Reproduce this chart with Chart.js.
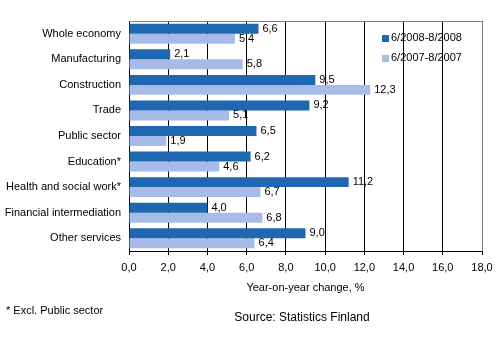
<!DOCTYPE html>
<html><head><meta charset="utf-8">
<script src="https://cdn.jsdelivr.net/npm/chart.js@4/dist/chart.umd.min.js"></script>
<style>html,body{margin:0;padding:0;background:#fff}#wrap{position:relative;width:499px;height:345px}</style>
</head><body><div id="wrap"><canvas id="c" width="499" height="345"></canvas></div>
<script>
const categories = ["Whole economy","Manufacturing","Construction","Trade","Public sector","Education*","Health and social work*","Financial intermediation","Other services"];
const series2008 = [6.6, 2.1, 9.5, 9.2, 6.5, 6.2, 11.2, 4.0, 9.0];
const series2007 = [5.4, 5.8, 12.3, 5.1, 1.9, 4.6, 6.7, 6.8, 6.4];
const seriesNames = ["6/2008-8/2008", "6/2007-8/2007"];
const xTicks = [0,2,4,6,8,10,12,14,16,18];
const axisTitle = "Year-on-year change, %";
const sourceText = "Source: Statistics Finland";
const footnote = "* Excl. Public sector";

const DARK = "#1f67b0", LIGHT = "#a6bbe8";
const FONT = "Arial, 'Liberation Sans', sans-serif";
const fmt = v => v.toFixed(1).replace('.', ',');

const extras = {
  id: 'extras',
  afterDatasetsDraw(chart) {
    const ctx = chart.ctx, a = chart.chartArea;
    ctx.save();
    // top & right border
    ctx.strokeStyle = '#808080'; ctx.lineWidth = 1;
    ctx.beginPath();
    ctx.moveTo(a.left, a.top + 0.5); ctx.lineTo(a.right + 0.5, a.top + 0.5);
    ctx.lineTo(a.right + 0.5, a.bottom);
    ctx.stroke();
    // value labels
    ctx.fillStyle = '#000'; ctx.font = '11px ' + FONT;
    ctx.textBaseline = 'middle'; ctx.textAlign = 'left';
    chart.data.datasets.forEach((ds, i) => {
      chart.getDatasetMeta(i).data.forEach((bar, j) => {
        ctx.fillText(fmt(ds.data[j]), bar.x + 4, bar.y);
      });
    });
    // legend
    chart.data.datasets.forEach((ds, i) => {
      const y = a.top + 17 + i * 20;
      ctx.fillStyle = ds.backgroundColor;
      ctx.fillRect(a.right - 100, y - 3, 7, 7);
      ctx.fillStyle = '#000';
      ctx.fillText(ds.label, a.right - 91, y);
    });
    // texts
    ctx.textAlign = 'center';
    ctx.fillText(axisTitle, (a.left + a.right) / 2, 288);
    ctx.font = '12px ' + FONT;
    ctx.fillText(sourceText, 302, 318);
    ctx.textAlign = 'left'; ctx.font = '11px ' + FONT;
    ctx.fillText(footnote, 6, 311);
    ctx.restore();
  }
};

new Chart(document.getElementById('c'), {
  type: 'bar',
  data: {
    labels: categories,
    datasets: [
      { label: seriesNames[0], data: series2008, backgroundColor: DARK },
      { label: seriesNames[1], data: series2007, backgroundColor: LIGHT }
    ]
  },
  options: {
    indexAxis: 'y',
    responsive: false, animation: false,
    devicePixelRatio: 1,
    layout: { padding: { top: 21, right: 17, left: 0, bottom: 0 } },
    datasets: { bar: { categoryPercentage: 0.78, barPercentage: 1.0 } },
    plugins: { legend: { display: false }, tooltip: { enabled: false } },
    scales: {
      x: {
        min: 0, max: 18,
        afterBuildTicks: s => { s.ticks = xTicks.map(v => ({ value: v })); },
        afterFit: s => { s.height = 94; },
        ticks: { callback: v => fmt(v), color: '#000', font: { family: FONT, size: 11 }, padding: 6, maxRotation: 0 },
        grid: { color: c => (c.tick && c.tick.value === 18) ? '#808080' : '#000', tickColor: '#000', tickLength: 4, lineWidth: 1 },
        border: { color: '#000' }
      },
      y: {
        afterFit: s => { s.width = 129; },
        ticks: { color: '#000', font: { family: FONT, size: 11 }, padding: 8 },
        grid: { display: false, drawTicks: false },
        border: { color: '#000' }
      }
    }
  },
  plugins: [extras]
});
</script></body></html>
